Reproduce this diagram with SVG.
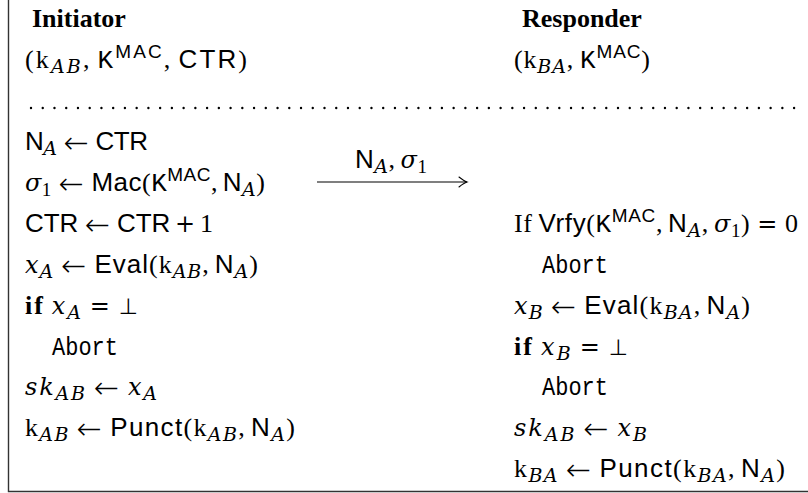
<svg xmlns="http://www.w3.org/2000/svg" width="808" height="493" viewBox="0 0 808 493">
  <defs>
    <style>
      text { font-size: 26px; fill: #000; font-family: "Liberation Serif", "DejaVu Serif", serif; }
      .rm { font-family: "Liberation Serif", "DejaVu Serif", serif; font-style: normal; }
      .mi { font-family: "DejaVu Serif", "Liberation Serif", serif; font-style: italic; font-size: 24px; }
      .sf { font-family: "Liberation Sans", "DejaVu Sans", sans-serif; font-style: normal; }
      .tt { font-family: "Liberation Mono", "DejaVu Sans Mono", monospace; font-style: normal; }
      .ar { font-family: "DejaVu Sans", sans-serif; font-weight: 200; font-style: normal; font-size: 30px; baseline-shift: -3px; }
      .op { font-family: "DejaVu Serif", serif; font-style: normal; font-size: 24px; }
      .bt { font-family: "DejaVu Sans", sans-serif; font-style: normal; font-size: 22px; }
      .bf { font-weight: bold; }
      .sb { font-size: 19px; baseline-shift: -5px; }
      .sp { font-size: 19px; baseline-shift: 10px; }
      .frame { fill: none; stroke: #333; stroke-width: 1.4; }
      .dots { fill: none; stroke: #000; stroke-width: 2.4; stroke-linecap: round; stroke-dasharray: 0 11.74; }
      .msg { fill: none; stroke: #000; stroke-width: 1.1; }
    </style>
    <marker id="ah" markerUnits="userSpaceOnUse" markerWidth="14" markerHeight="14" refX="11" refY="7" orient="auto" overflow="visible">
      <path d="M3 2 Q8 6 11 7 Q8 8 3 12" fill="none" stroke="#000" stroke-width="1.1" stroke-linecap="round"/>
    </marker>
  </defs>

  <rect width="808" height="493" fill="#fff"/>

  <!-- open frame: left rule and bottom rule -->
  <path class="frame" d="M8.5 0 V491.5 H808"/>

  <!-- party headers -->
  <g id="initiator-header">
    <text x="32" y="27" class="rm bf">Initiator</text>
    <text x="25" y="68" textLength="222" lengthAdjust="spacing"><tspan class="rm">(k</tspan><tspan class="mi sb">AB</tspan><tspan class="rm">,</tspan><tspan class="tt" dx="6">K</tspan><tspan class="sf sp">MAC</tspan><tspan class="rm">,</tspan><tspan class="sf" dx="6">CTR</tspan><tspan class="rm">)</tspan></text>
  </g>
  <g id="responder-header">
    <text x="522" y="27" class="rm bf">Responder</text>
    <text x="514" y="68" textLength="136" lengthAdjust="spacing"><tspan class="rm">(k</tspan><tspan class="mi sb">BA</tspan><tspan class="rm">,</tspan><tspan class="tt" dx="6">K</tspan><tspan class="sf sp">MAC</tspan><tspan class="rm">)</tspan></text>
  </g>

  <!-- dotted separator -->
  <line class="dots" x1="31" y1="108" x2="795" y2="108"/>

  <!-- initiator steps -->
  <g id="initiator-steps">
    <text x="25" y="150" textLength="123" lengthAdjust="spacing"><tspan class="sf">N</tspan><tspan class="mi sb">A</tspan><tspan class="ar" dx="7">←</tspan><tspan class="sf" dx="7">CTR</tspan></text>
    <text x="25" y="191" textLength="240" lengthAdjust="spacing"><tspan class="mi">σ</tspan><tspan class="rm sb">1</tspan><tspan class="ar" dx="7">←</tspan><tspan class="sf" dx="7">Mac</tspan><tspan class="rm">(</tspan><tspan class="tt">K</tspan><tspan class="sf sp">MAC</tspan><tspan class="rm">,</tspan><tspan class="sf" dx="5">N</tspan><tspan class="mi sb">A</tspan><tspan class="rm">)</tspan></text>
    <text x="25" y="232" textLength="188" lengthAdjust="spacing"><tspan class="sf">CTR</tspan><tspan class="ar" dx="7">←</tspan><tspan class="sf" dx="7">CTR</tspan><tspan class="op" dx="5">+</tspan><tspan class="rm" dx="5">1</tspan></text>
    <text x="25" y="273" textLength="233" lengthAdjust="spacing"><tspan class="mi">x</tspan><tspan class="mi sb">A</tspan><tspan class="ar" dx="7">←</tspan><tspan class="sf" dx="7">Eval</tspan><tspan class="rm">(k</tspan><tspan class="mi sb">AB</tspan><tspan class="rm">,</tspan><tspan class="sf" dx="5">N</tspan><tspan class="mi sb">A</tspan><tspan class="rm">)</tspan></text>
    <text x="25" y="314" textLength="113" lengthAdjust="spacing"><tspan class="rm bf">if</tspan><tspan class="mi" dx="7">x</tspan><tspan class="mi sb">A</tspan><tspan class="op" dx="7">=</tspan><tspan class="bt" dx="7">⊥</tspan></text>
    <text x="52" y="355" class="tt" textLength="66" lengthAdjust="spacingAndGlyphs">Abort</text>
    <text x="25" y="395" textLength="132" lengthAdjust="spacing"><tspan class="mi">sk</tspan><tspan class="mi sb">AB</tspan><tspan class="ar" dx="7">←</tspan><tspan class="mi" dx="7">x</tspan><tspan class="mi sb">A</tspan></text>
    <text x="25" y="436" textLength="270" lengthAdjust="spacing"><tspan class="rm">k</tspan><tspan class="mi sb">AB</tspan><tspan class="ar" dx="7">←</tspan><tspan class="sf" dx="7">Punct</tspan><tspan class="rm">(k</tspan><tspan class="mi sb">AB</tspan><tspan class="rm">,</tspan><tspan class="sf" dx="5">N</tspan><tspan class="mi sb">A</tspan><tspan class="rm">)</tspan></text>
  </g>

  <!-- responder steps -->
  <g id="responder-steps">
    <text x="514" y="232" textLength="284" lengthAdjust="spacing"><tspan class="rm">If</tspan><tspan class="sf" dx="6">Vrfy</tspan><tspan class="rm">(</tspan><tspan class="tt">K</tspan><tspan class="sf sp">MAC</tspan><tspan class="rm">,</tspan><tspan class="sf" dx="5">N</tspan><tspan class="mi sb">A</tspan><tspan class="rm">,</tspan><tspan class="mi" dx="5">σ</tspan><tspan class="rm sb">1</tspan><tspan class="rm">)</tspan><tspan class="op" dx="7">=</tspan><tspan class="rm" dx="7">0</tspan></text>
    <text x="542" y="273" class="tt" textLength="66" lengthAdjust="spacingAndGlyphs">Abort</text>
    <text x="514" y="314" textLength="236" lengthAdjust="spacing"><tspan class="mi">x</tspan><tspan class="mi sb">B</tspan><tspan class="ar" dx="7">←</tspan><tspan class="sf" dx="7">Eval</tspan><tspan class="rm">(k</tspan><tspan class="mi sb">BA</tspan><tspan class="rm">,</tspan><tspan class="sf" dx="5">N</tspan><tspan class="mi sb">A</tspan><tspan class="rm">)</tspan></text>
    <text x="514" y="355" textLength="114" lengthAdjust="spacing"><tspan class="rm bf">if</tspan><tspan class="mi" dx="7">x</tspan><tspan class="mi sb">B</tspan><tspan class="op" dx="7">=</tspan><tspan class="bt" dx="7">⊥</tspan></text>
    <text x="542" y="395" class="tt" textLength="66" lengthAdjust="spacingAndGlyphs">Abort</text>
    <text x="514" y="436" textLength="133" lengthAdjust="spacing"><tspan class="mi">sk</tspan><tspan class="mi sb">AB</tspan><tspan class="ar" dx="7">←</tspan><tspan class="mi" dx="7">x</tspan><tspan class="mi sb">B</tspan></text>
    <text x="514" y="477" textLength="271" lengthAdjust="spacing"><tspan class="rm">k</tspan><tspan class="mi sb">BA</tspan><tspan class="ar" dx="7">←</tspan><tspan class="sf" dx="7">Punct</tspan><tspan class="rm">(k</tspan><tspan class="mi sb">BA</tspan><tspan class="rm">,</tspan><tspan class="sf" dx="5">N</tspan><tspan class="mi sb">A</tspan><tspan class="rm">)</tspan></text>
  </g>

  <!-- message from initiator to responder -->
  <g id="connectors">
    <line class="msg" x1="317" y1="182" x2="467" y2="182" marker-end="url(#ah)"/>
    <text x="355" y="168" textLength="72" lengthAdjust="spacing"><tspan class="sf">N</tspan><tspan class="mi sb">A</tspan><tspan class="rm">,</tspan><tspan class="mi" dx="5">σ</tspan><tspan class="rm sb">1</tspan></text>
  </g>
</svg>
